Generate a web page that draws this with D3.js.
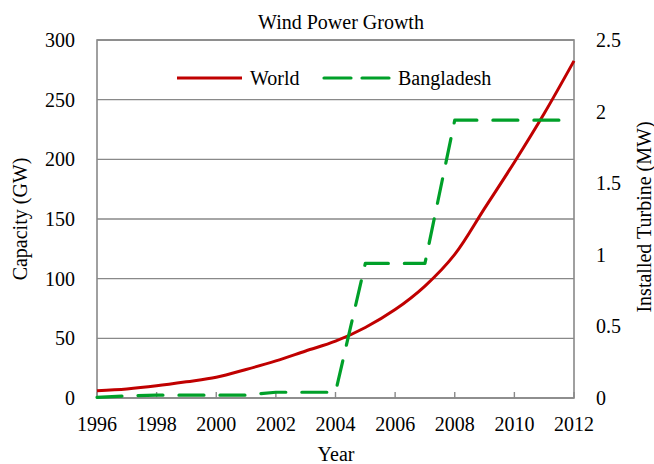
<!DOCTYPE html>
<html>
<head>
<meta charset="utf-8">
<script src="https://cdn.jsdelivr.net/npm/d3@7"></script>
<style>
  body { margin: 0; background: #fff; }
  text { font-family: "Liberation Serif", "Times New Roman", serif; font-size: 20px; fill: #000; }
</style>
</head>
<body>
<script>
// data
var years = [1996, 1997, 1998, 1999, 2000, 2001, 2002, 2003, 2004, 2005, 2006, 2007, 2008, 2009, 2010, 2011, 2012];
var world = [6.1, 7.6, 10.2, 13.6, 17.4, 23.9, 31.1, 39.4, 47.6, 59.1, 74.1, 93.8, 120.3, 158.9, 197.6, 238.4, 282.5]; // GW
var bangladesh = [0.005, 0.015, 0.02, 0.02, 0.02, 0.02, 0.04, 0.04, 0.04, 0.94, 0.94, 0.94, 1.94, 1.94, 1.94, 1.94, 1.94]; // MW
var leftTicks = [0, 50, 100, 150, 200, 250, 300];
var rightTicks = [0, 0.5, 1, 1.5, 2, 2.5];
var xTicks = [1996, 1998, 2000, 2002, 2004, 2006, 2008, 2010, 2012];

var W = 654, H = 464;
var pl = 97, pr = 574, pt = 40, pb = 398; // plot area edges
var grey = '#898989', red = '#c00000', green = '#00a029';

var svg = d3.select('body').append('svg').attr('width', W).attr('height', H);

var x = d3.scaleLinear().domain([1996, 2012]).range([pl, pr]);
var yL = d3.scaleLinear().domain([0, 300]).range([pb, pt]);
var yR = d3.scaleLinear().domain([0, 2.5]).range([pb, pt]);

// gridlines
svg.append('g').selectAll('line').data(leftTicks).enter().append('line')
  .attr('x1', pl).attr('x2', pr).attr('y1', d => yL(d)).attr('y2', d => yL(d))
  .attr('stroke', grey).attr('stroke-width', 1.4);

// frame
svg.append('rect').attr('x', pl).attr('y', pt).attr('width', pr - pl).attr('height', pb - pt)
  .attr('fill', 'none').attr('stroke', grey).attr('stroke-width', 1.6);

// x ticks (inside)
svg.append('g').selectAll('line').data(xTicks).enter().append('line')
  .attr('x1', d => x(d)).attr('x2', d => x(d)).attr('y1', pb).attr('y2', pb - 6)
  .attr('stroke', grey).attr('stroke-width', 1.4);

// tick labels
svg.append('g').selectAll('text').data(leftTicks).enter().append('text')
  .attr('x', 75).attr('y', d => yL(d)).attr('dy', '0.35em').attr('text-anchor', 'end').text(d => d);
svg.append('g').selectAll('text').data(rightTicks).enter().append('text')
  .attr('x', 596).attr('y', d => yR(d)).attr('dy', '0.35em').attr('text-anchor', 'start').text(d => d);
svg.append('g').selectAll('text').data(xTicks).enter().append('text')
  .attr('x', d => x(d)).attr('y', 431).attr('text-anchor', 'middle').text(d => d);

// titles
svg.append('text').attr('x', 341).attr('y', 29).attr('text-anchor', 'middle').text('Wind Power Growth');
svg.append('text').attr('x', 336).attr('y', 461).attr('text-anchor', 'middle').text('Year');
svg.append('text').attr('transform', 'translate(27,219) rotate(-90)').attr('text-anchor', 'middle').text('Capacity (GW)');
svg.append('text').attr('transform', 'translate(651,217) rotate(-90)').attr('text-anchor', 'middle').text('Installed Turbine (MW)');

// series
var worldLine = d3.line().x((d, i) => x(years[i])).y(d => yL(d)).curve(d3.curveCatmullRom.alpha(0.5));
var bdLine = d3.line().x((d, i) => x(years[i])).y(d => yR(d));

svg.append('path').datum(world).attr('d', worldLine)
  .attr('fill', 'none').attr('stroke', red).attr('stroke-width', 3);
svg.append('path').datum(bangladesh).attr('d', bdLine)
  .attr('fill', 'none').attr('stroke', green).attr('stroke-width', 3.2)
  .attr('stroke-dasharray', '25,16').attr('stroke-linecap', 'round').attr('stroke-linejoin', 'round');

// legend
var lg = svg.append('g');
lg.append('line').attr('x1', 177).attr('x2', 242).attr('y1', 78).attr('y2', 78)
  .attr('stroke', red).attr('stroke-width', 3);
lg.append('text').attr('x', 250).attr('y', 78).attr('dy', '0.35em').text('World');
lg.append('line').attr('x1', 324).attr('x2', 390).attr('y1', 78).attr('y2', 78)
  .attr('stroke', green).attr('stroke-width', 3.2)
  .attr('stroke-dasharray', '27,11').attr('stroke-linecap', 'round');
lg.append('text').attr('x', 398).attr('y', 78).attr('dy', '0.35em').text('Bangladesh');
</script>
</body>
</html>
